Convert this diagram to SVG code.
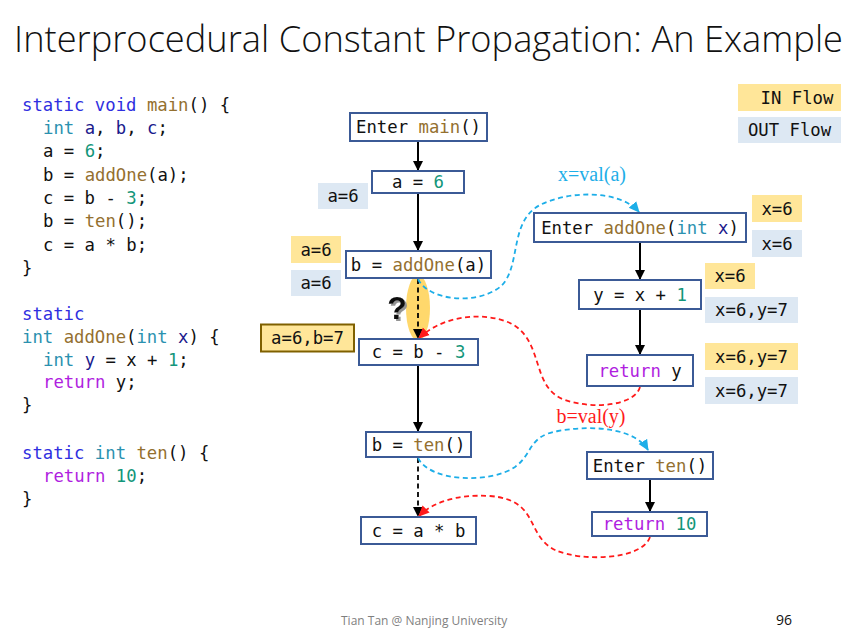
<svg xmlns="http://www.w3.org/2000/svg" width="860" height="639" viewBox="0 0 860 639">
<style>
.title{font-family:"Open Sans","Noto Sans",sans-serif;font-weight:300;font-size:37px;fill:#111}
.code{font-family:"DejaVu Sans Mono","Liberation Mono",monospace;font-size:17.3px;fill:#111;white-space:pre}
.mono{font-family:"DejaVu Sans Mono","Liberation Mono",monospace;font-size:17.3px;fill:#111}
.box{fill:#fff;stroke:#3B5A96;stroke-width:2}
.inl{fill:#FFE699}
.outl{fill:#DDE8F3}
.kw{fill:#2F2FE0}
.ty{fill:#2B91AF}
.fn{fill:#94702F}
.num{fill:#13967A}
.ret{fill:#B01EE0}
.var{fill:#1A1A8C}
.edge{fill:none;stroke:#000;stroke-width:2}
.dash{fill:none;stroke-width:1.8;stroke-dasharray:5,3.5}
.serif{font-family:"Liberation Serif","Times New Roman",serif;font-size:20px}
.foot{font-family:"Open Sans","Noto Sans",sans-serif;font-size:12px;fill:#7F7F7F}
</style>
<defs>
<marker id="ab" markerWidth="10" markerHeight="10" refX="9" refY="5" orient="auto" markerUnits="userSpaceOnUse"><path d="M0,0 L10,5 L0,10 Z" fill="#000"/></marker>
<marker id="ac" markerWidth="12" markerHeight="12" refX="10" refY="6" orient="auto" markerUnits="userSpaceOnUse"><path d="M0,1 L11,6 L0,11 Z" fill="#1DAEE8"/></marker>
<marker id="ar" markerWidth="12" markerHeight="12" refX="10" refY="6" orient="auto" markerUnits="userSpaceOnUse"><path d="M0,1 L11,6 L0,11 Z" fill="#FF1A1A"/></marker>
<filter id="shadow" x="-50%" y="-50%" width="200%" height="200%"><feDropShadow dx="2" dy="2" stdDeviation="0.6" flood-color="#888" flood-opacity="0.9"/></filter>
</defs>
<rect width="860" height="639" fill="#fff"/>
<text class="title" x="14" y="52" textLength="829" lengthAdjust="spacingAndGlyphs">Interprocedural Constant Propagation: An Example</text>

<g id="code">
<text class="code" x="22" y="111"><tspan class="kw">static</tspan> <tspan class="kw">void</tspan> <tspan class="fn">main</tspan>() {</text>
<text class="code" x="43" y="134"><tspan class="ty">int</tspan> <tspan class="var">a</tspan>, <tspan class="var">b</tspan>, <tspan class="var">c</tspan>;</text>
<text class="code" x="43" y="157">a = <tspan class="num">6</tspan>;</text>
<text class="code" x="43" y="180.5">b = <tspan class="fn">addOne</tspan>(a);</text>
<text class="code" x="43" y="204">c = b - <tspan class="num">3</tspan>;</text>
<text class="code" x="43" y="227">b = <tspan class="fn">ten</tspan>();</text>
<text class="code" x="43" y="250.5">c = a * b;</text>
<text class="code" x="22" y="274">}</text>
<text class="code" x="22" y="320"><tspan class="kw">static</tspan></text>
<text class="code" x="22" y="343"><tspan class="ty">int</tspan> <tspan class="fn">addOne</tspan>(<tspan class="ty">int</tspan> <tspan class="var">x</tspan>) {</text>
<text class="code" x="43" y="365.5"><tspan class="ty">int</tspan> <tspan class="var">y</tspan> = x + <tspan class="num">1</tspan>;</text>
<text class="code" x="43" y="388"><tspan class="ret">return</tspan> y;</text>
<text class="code" x="22" y="411">}</text>
<text class="code" x="22" y="459"><tspan class="kw">static</tspan> <tspan class="ty">int</tspan> <tspan class="fn">ten</tspan>() {</text>
<text class="code" x="43" y="481.5"><tspan class="ret">return</tspan> <tspan class="num">10</tspan>;</text>
<text class="code" x="22" y="505">}</text>
</g>

<g id="legend">
<rect class="inl" x="738" y="84" width="103" height="27"/>
<text class="mono" x="797" y="103.5" text-anchor="middle">IN Flow</text>
<rect class="outl" x="738" y="117" width="103" height="26"/>
<text class="mono" x="789.5" y="136" text-anchor="middle">OUT Flow</text>
</g>

<g id="highlight">
<ellipse cx="418" cy="308" rx="12" ry="33" fill="#FFD45C" fill-opacity="0.9"/>
<text x="397" y="319" text-anchor="middle" font-family="Liberation Sans,Arial,sans-serif" font-weight="bold" font-size="32" fill="#111" filter="url(#shadow)">?</text>
</g>

<g id="connectors">
<line class="edge" x1="418" y1="142" x2="418" y2="170" marker-end="url(#ab)"/>
<line class="edge" x1="418" y1="194" x2="418" y2="250" marker-end="url(#ab)"/>
<line class="dash" stroke="#000" x1="418" y1="279" x2="418" y2="338" marker-end="url(#ab)"/>
<line class="edge" x1="418" y1="366" x2="418" y2="431" marker-end="url(#ab)"/>
<line class="dash" stroke="#000" x1="418" y1="458" x2="418" y2="516" marker-end="url(#ab)"/>
<line class="edge" x1="640" y1="243" x2="640" y2="279" marker-end="url(#ab)"/>
<line class="edge" x1="640" y1="310" x2="640" y2="354" marker-end="url(#ab)"/>
<line class="edge" x1="650" y1="480" x2="650" y2="511" marker-end="url(#ab)"/>
<path class="dash" stroke="#1DAEE8" d="M418,279 C428,300 475,306 500,287 C522,268 508,222 540,205 C570,190 620,190 639,212" marker-end="url(#ac)"/>
<path class="dash" stroke="#FF1A1A" d="M640,387 C635,405 595,410 565,400 C530,388 545,340 510,323 C485,312 445,314 419,338" marker-end="url(#ar)"/>
<path class="dash" stroke="#1DAEE8" d="M418,458 C430,482 490,484 515,467 C533,454 528,436 558,431 C598,424 636,430 648,450" marker-end="url(#ac)"/>
<path class="dash" stroke="#FF1A1A" d="M650,537 C642,560 582,562 555,550 C525,535 540,500 490,496 C455,494 432,503 419,516" marker-end="url(#ar)"/>
<text class="serif" x="592" y="181" text-anchor="middle" fill="#1DAEE8">x=val(a)</text>
<text class="serif" x="591" y="423" text-anchor="middle" fill="#FF1A1A">b=val(y)</text>
</g>

<g id="n_enter_main">
<rect class="box" x="350" y="113" width="137" height="28"/>
<text class="mono" x="418.5" y="133" text-anchor="middle">Enter <tspan class="fn">main</tspan>()</text>
</g>
<g id="n_a6">
<rect class="box" x="372" y="171" width="92" height="22"/>
<text class="mono" x="418" y="188" text-anchor="middle">a = <tspan class="num">6</tspan></text>
<rect class="outl" x="318" y="183" width="50" height="26"/>
<text class="mono" x="343" y="202" text-anchor="middle">a=6</text>
</g>
<g id="n_call_addone">
<rect class="box" x="346" y="251" width="145" height="27"/>
<text class="mono" x="418.5" y="270.5" text-anchor="middle">b = <tspan class="fn">addOne</tspan>(a)</text>
<rect class="inl" x="291" y="236" width="50" height="27"/>
<text class="mono" x="316" y="255.5" text-anchor="middle">a=6</text>
<rect class="outl" x="291" y="270" width="50" height="26"/>
<text class="mono" x="316" y="289" text-anchor="middle">a=6</text>
</g>
<g id="n_c_b3">
<rect class="box" x="359" y="339" width="119" height="26"/>
<text class="mono" x="418.5" y="358" text-anchor="middle">c = b - <tspan class="num">3</tspan></text>
<rect x="261" y="324.5" width="93" height="27" fill="#FFE699" stroke="#7F6000" stroke-width="2"/>
<text class="mono" x="307.5" y="344" text-anchor="middle">a=6,b=7</text>
</g>
<g id="n_call_ten">
<rect class="box" x="366" y="432" width="105" height="25"/>
<text class="mono" x="418.5" y="450.5" text-anchor="middle">b = <tspan class="fn">ten</tspan>()</text>
</g>
<g id="n_c_ab">
<rect class="box" x="361" y="517" width="115" height="27"/>
<text class="mono" x="418.5" y="536.5" text-anchor="middle">c = a * b</text>
</g>

<g id="n_enter_addone">
<rect class="box" x="534" y="213" width="212" height="29"/>
<text class="mono" x="640" y="233.5" text-anchor="middle">Enter <tspan class="fn">addOne</tspan>(<tspan class="ty">int</tspan> <tspan class="var">x</tspan>)</text>
<rect class="inl" x="752" y="195" width="50" height="27"/>
<text class="mono" x="777" y="214.5" text-anchor="middle">x=6</text>
<rect class="outl" x="752" y="230" width="50" height="27"/>
<text class="mono" x="777" y="249.5" text-anchor="middle">x=6</text>
</g>
<g id="n_y_x1">
<rect class="box" x="579" y="280" width="122" height="29"/>
<text class="mono" x="640" y="300.5" text-anchor="middle">y = x + <tspan class="num">1</tspan></text>
<rect class="inl" x="705" y="263" width="50" height="26"/>
<text class="mono" x="730" y="282" text-anchor="middle">x=6</text>
<rect class="outl" x="705" y="297" width="93" height="26"/>
<text class="mono" x="751.5" y="316" text-anchor="middle">x=6,y=7</text>
</g>
<g id="n_return_y">
<rect class="box" x="587" y="355" width="106" height="31"/>
<text class="mono" x="640" y="376.5" text-anchor="middle"><tspan class="ret">return</tspan> y</text>
<rect class="inl" x="705" y="343" width="93" height="27"/>
<text class="mono" x="751.5" y="362.5" text-anchor="middle">x=6,y=7</text>
<rect class="outl" x="705" y="377" width="93" height="27"/>
<text class="mono" x="751.5" y="396.5" text-anchor="middle">x=6,y=7</text>
</g>
<g id="n_enter_ten">
<rect class="box" x="587" y="452" width="126" height="27"/>
<text class="mono" x="650" y="471.5" text-anchor="middle">Enter <tspan class="fn">ten</tspan>()</text>
</g>
<g id="n_return_10">
<rect class="box" x="592" y="512" width="115" height="24"/>
<text class="mono" x="649.5" y="530" text-anchor="middle"><tspan class="ret">return</tspan> <tspan class="num">10</tspan></text>
</g>

<text class="foot" x="341" y="625">Tian Tan @ Nanjing University</text>
<text x="776" y="625" font-family="Open Sans,Noto Sans,sans-serif" font-size="14" fill="#111">96</text>
</svg>
